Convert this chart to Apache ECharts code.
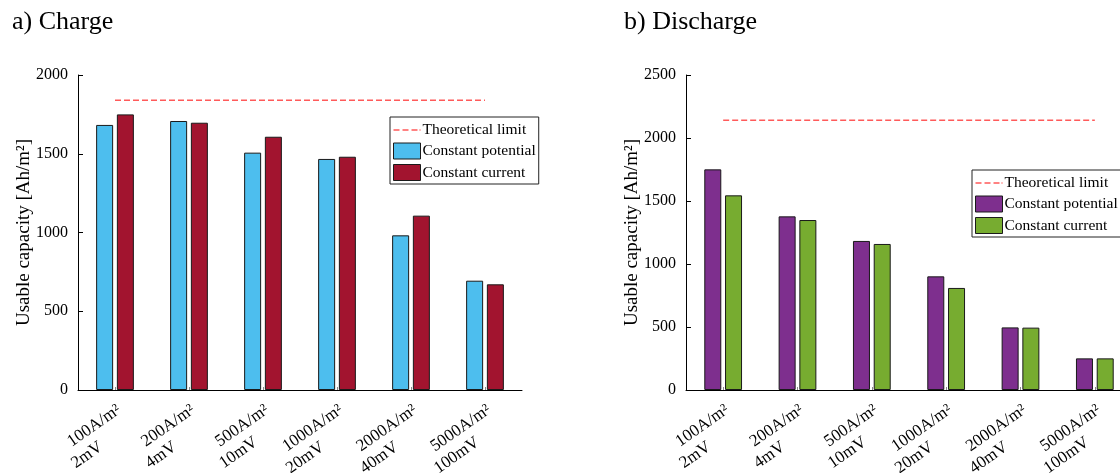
<!DOCTYPE html>
<html>
<head>
<meta charset="utf-8">
<script src="https://cdn.jsdelivr.net/npm/echarts@6/dist/echarts.min.js"></script>
<style>
html,body{margin:0;padding:0;background:#fff;}
#wrap{position:relative;width:1120px;height:473px;overflow:hidden;}
#c1{position:absolute;left:0;top:0;width:560px;height:473px;}
#c2{position:absolute;left:560px;top:0;width:560px;height:473px;}
</style>
</head>
<body>
<div id="wrap"><div id="c1"></div><div id="c2"></div></div>
<script>
// ---- data ----
const currentDensity = ['100A/m²', '200A/m²', '500A/m²', '1000A/m²', '2000A/m²', '5000A/m²'];
const voltageStep = ['2mV', '4mV', '10mV', '20mV', '40mV', '100mV'];
const chargeCP = [1683, 1708, 1507, 1467, 982, 694];
const chargeCC = [1750, 1697, 1608, 1481, 1107, 671];
const chargeLimit = 1839;
const dischargeCP = [1751, 1378, 1183, 902, 497, 251];
const dischargeCC = [1545, 1349, 1159, 810, 495, 251];
const dischargeLimit = 2140;
const seriesNames = ['Theoretical limit', 'Constant potential', 'Constant current'];
const yTicksCharge = {max: 2000, interval: 500};
const yTicksDischarge = {max: 2500, interval: 500};

// ---- styling helpers ----
const FONT = '"Liberation Serif", "Times New Roman", serif';
const LBL = 17;
const LH = 20;
const LIMIT_COLOR = '#ff5a5a';
const DASH_ICON = 'path://M0,0 M27,16 M0,7.25h6v1.5h-6z M9,7.25h6v1.5h-6z M18,7.25h6v1.5h-6z M26,7.25h1v1.5h-1z';
const cv = document.createElement('canvas').getContext('2d');
cv.font = LBL + 'px "Liberation Serif"';
const rich = {};
currentDensity.forEach((t, i) => {
  const w = Math.ceil(cv.measureText(t).width) + 9;
  rich['a' + i] = {width: w, align: 'right', padding: [0, 2, 0, 0],
    fontSize: LBL, fontFamily: FONT, color: '#000', lineHeight: LH};
  rich['b' + i] = {width: w, align: 'left', padding: [0, 2, 0, 0],
    fontSize: LBL, fontFamily: FONT, color: '#000', lineHeight: LH};
});

function makeOption(title, cp, cc, limit, yt, colors, gridLeft, gridWidth, legendPos, titleLeft) {
  return {
    animation: false,
    title: {text: title, left: titleLeft, top: 9, padding: 0,
      textStyle: {fontFamily: FONT, fontSize: 26, fontWeight: 'normal', color: '#000'}},
    legend: {
      orient: 'vertical', left: legendPos[0], top: legendPos[1],
      data: [
        {name: seriesNames[0], icon: DASH_ICON,
          itemStyle: {color: LIMIT_COLOR, borderWidth: 0}},
        {name: seriesNames[1], icon: 'rect'},
        {name: seriesNames[2], icon: 'rect'}
      ],
      itemWidth: 27, itemHeight: 16, itemGap: 4.5,
      itemStyle: {borderWidth: 1, borderColor: '#1a1a1a'},
      borderColor: '#222', borderWidth: 1, padding: [5, 3, 3, 3],
      backgroundColor: '#fff',
      textStyle: {fontFamily: FONT, fontSize: 15.5, color: '#000', padding: [0, 0, 0, -3]},
      selectedMode: false
    },
    grid: {left: gridLeft, top: 75, width: gridWidth, height: 315, outerBoundsMode: 'none'},
    xAxis: {
      type: 'category', data: currentDensity, boundaryGap: true,
      axisLine: {lineStyle: {color: '#000', width: 1}},
      axisTick: {show: true, alignWithLabel: true, inside: true, length: 3, lineStyle: {color: '#888'}},
      axisLabel: {interval: 0, rotate: 35, verticalAlign: 'top', margin: 9,
        fontSize: LBL, fontFamily: FONT, color: '#000', lineHeight: LH,
        rich: rich,
        formatter: (v, i) => '{a' + i + '|' + v + '}\n{b' + i + '|' + voltageStep[i] + '}'}
    },
    yAxis: {
      type: 'value', min: 0, max: yt.max, interval: yt.interval,
      name: 'Usable capacity [Ah/m²]', nameLocation: 'middle', nameGap: 44,
      nameMoveOverlap: false,
      nameTextStyle: {fontFamily: FONT, fontSize: 19, color: '#000'},
      axisLine: {show: true, lineStyle: {color: '#000', width: 1}},
      axisTick: {show: true, inside: true, length: 5, lineStyle: {color: '#000'}},
      axisLabel: {fontFamily: FONT, fontSize: 16, color: '#000', margin: 10,
        formatter: v => String(v)},
      splitLine: {show: false}
    },
    series: [
      {name: seriesNames[0], type: 'line', data: currentDensity.map(() => limit),
        symbol: 'none', z: 5,
        lineStyle: {color: LIMIT_COLOR, width: 1.5, type: [6, 3]},
        itemStyle: {color: LIMIT_COLOR}},
      {name: seriesNames[1], type: 'bar', data: cp, barWidth: 17, barGap: '22%',
        itemStyle: {color: colors[0], borderColor: '#1a1a1a', borderWidth: 1}},
      {name: seriesNames[2], type: 'bar', data: cc, barWidth: 17, barGap: '22%',
        itemStyle: {color: colors[1], borderColor: '#1a1a1a', borderWidth: 1}}
    ]
  };
}

const c1 = echarts.init(document.getElementById('c1'), null, {renderer: 'canvas'});
c1.setOption(makeOption('a) Charge', chargeCP, chargeCC, chargeLimit, yTicksCharge,
  ['#4DBEEE', '#A2142F'], 78, 444, [390, 117], 12));
const c2 = echarts.init(document.getElementById('c2'), null, {renderer: 'canvas'});
c2.setOption(makeOption('b) Discharge', dischargeCP, dischargeCC, dischargeLimit, yTicksDischarge,
  ['#7E2F8E', '#77AC30'], 126, 446, [412, 170], 64));
</script>
</body>
</html>
